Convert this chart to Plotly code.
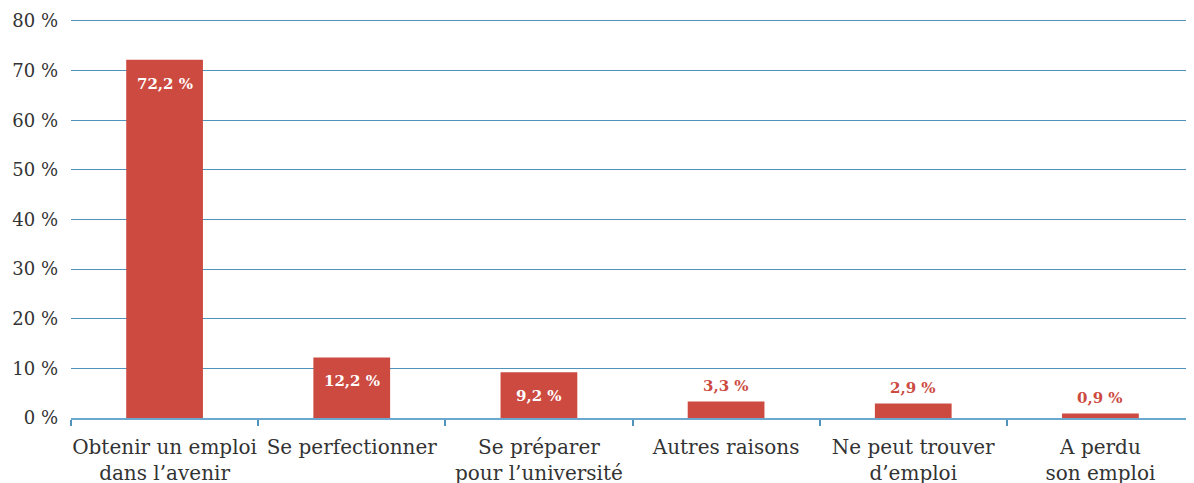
import plotly.graph_objects as go

categories = ["Obtenir un emploi<br>dans l’avenir", "Se perfectionner", "Se préparer<br>pour l’université",
              "Autres raisons", "Ne peut trouver<br>d’emploi", "A perdu<br>son emploi"]
values = [72.2, 12.2, 9.2, 3.3, 2.9, 0.9]
labels = ["72,2 %", "12,2 %", "9,2 %", "3,3 %", "2,9 %", "0,9 %"]
y_ticks = [0, 10, 20, 30, 40, 50, 60, 70, 80]
y_ticktext = ["0 %", "10 %", "20 %", "30 %", "40 %", "50 %", "60 %", "70 %", "80 %"]

RED = "#cc4a40"
BLUE = "#4f93bd"
FONT = "DejaVu Serif"

fig = go.Figure(go.Bar(
    x=categories, y=values,
    marker=dict(color=RED, line=dict(width=0)),
    width=0.41, cliponaxis=False,
))

for c, v, t in zip(categories, values, labels):
    inside = v > 5
    fig.add_annotation(
        x=c, y=v, text=f"<b>{t}</b>", showarrow=False,
        yanchor="middle", yshift=-24 if inside else 16,
        font=dict(family=FONT, size=15, color="white" if inside else RED),
    )

# page body adds an 8px offset; figure sized to fill the rest of the window
fig.update_layout(
    width=1186, height=475,
    margin=dict(l=63, r=0, t=10, b=65, autoexpand=False),
    plot_bgcolor="white", paper_bgcolor="white",
    showlegend=False,
)
fig.update_yaxes(
    range=[0, 80.6], tickvals=y_ticks, ticktext=y_ticktext,
    showgrid=True, gridcolor=BLUE, gridwidth=1.3, zeroline=False,
    tickfont=dict(family=FONT, size=18, color="#333333"),
    ticks="", ticklabelstandoff=12, automargin=False,
)
fig.update_xaxes(
    showline=True, linecolor="#6aa8cf", linewidth=2,
    ticks="outside", tickson="boundaries", ticklen=6, tickcolor=BLUE, tickwidth=1.5,
    tickfont=dict(family=FONT, size=20, color="#333333"),
    tickangle=0, ticklabelstandoff=10, automargin=False,
)

fig.write_html("out.html")
